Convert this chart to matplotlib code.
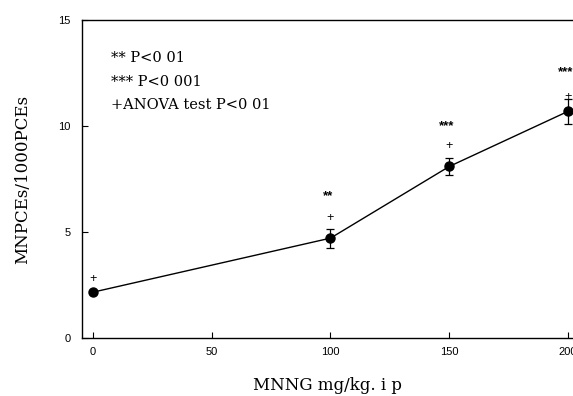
import matplotlib.pyplot as plt

# dose (mg/kg, i.p.) vs micronucleated PCEs per 1000 PCEs
dose = [0, 100, 150, 200]
mnpce = [2.17, 4.72, 8.1, 10.7]
err = [0.0, 0.45, 0.4, 0.6]

# significance marks above each point
plus_y = [2.78, 5.66, 9.06, 11.4]
star_labels = ["", "**", "***", "***"]
star_y = [0, 6.7, 10.0, 12.55]

legend_lines = ["** P<0 01", "*** P<0 001", "+ANOVA test P<0 01"]

fig = plt.figure(figsize=(5.73, 3.96), dpi=100)
ax = fig.add_axes([0.143, 0.146, 0.857, 0.803])

ax.errorbar(dose, mnpce, yerr=err, fmt="-o", color="black", lw=1.0,
            ms=6.5, capsize=3, elinewidth=0.9, capthick=0.9)

for x, y in zip(dose, plus_y):
    ax.text(x, y, "+", ha="center", va="center", fontsize=9,
            family="Liberation Sans")
for x, s, y in zip(dose, star_labels, star_y):
    if s:
        ax.text(x - 1, y, s, ha="center", va="center", fontsize=9.5,
                family="Liberation Sans", fontweight="bold")

for i, line in enumerate(legend_lines):
    ax.text(7.5, 13.2 - i * 1.1, line, ha="left", va="center", fontsize=10.5,
            family="DejaVu Serif")

ax.set_xlim(-4.64, 202.1)
ax.set_ylim(0, 15)
ax.set_xticks([0, 50, 100, 150, 200])
ax.set_yticks([0, 5, 10, 15])
ax.tick_params(direction="in", length=4, width=0.8, labelsize=8, pad=6)
ax.tick_params(axis="y", pad=8)
for lab in ax.get_xticklabels() + ax.get_yticklabels():
    lab.set_family("Liberation Sans")
ax.spines["right"].set_visible(False)
for sp in ("left", "top", "bottom"):
    ax.spines[sp].set_linewidth(1.0)

ax.set_xlabel("MNNG mg/kg. i p", fontsize=12, family="DejaVu Serif",
              labelpad=15)
ax.set_ylabel("MNPCEs/1000PCEs", fontsize=12, family="DejaVu Serif",
              labelpad=20)

fig.savefig("out.png", dpi=100)
